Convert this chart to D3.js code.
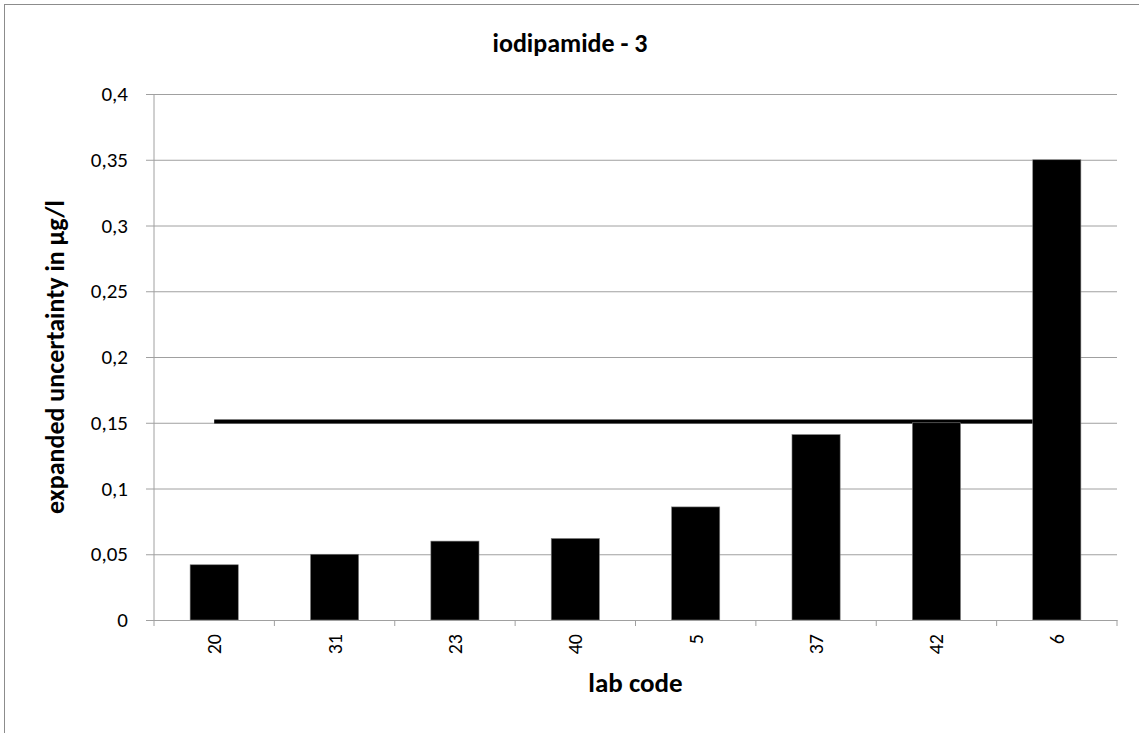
<!DOCTYPE html>
<html><head><meta charset="utf-8">
<script src="https://cdn.jsdelivr.net/npm/d3@7"></script>
<style>body{margin:0;background:#fff}svg{display:block}text{font-family:Carlito,Lato,"Open Sans",sans-serif}</style>
</head><body>
<svg id="chart" width="1139" height="733"></svg>
<script>
const labCodes = ["20","31","23","40","5","37","42","6"];
const uncertainty = [0.042,0.05,0.06,0.062,0.086,0.141,0.15,0.35];
const referenceValue = 0.151;
const yTicks = [0,0.05,0.1,0.15,0.2,0.25,0.3,0.35,0.4];
const title = "iodipamide - 3";
const xTitle = "lab code";
const yTitle = "expanded uncertainty in µg/l";

const svg = d3.select("#chart");
const W = 1139, H = 733;
const m = {left:154, right:1117, top:94, bottom:620};

svg.append("rect").attr("x",4.5).attr("y",4.5).attr("width",W).attr("height",H)
  .attr("fill","#fff").attr("stroke","#8c8c8c").attr("stroke-width",1);

const x = d3.scaleBand().domain(labCodes).range([m.left,m.right]).paddingInner(0.6).paddingOuter(0.3);
const y = d3.scaleLinear().domain([0,0.4]).range([m.bottom,m.top]);
const fmt = d => d3.format(".2~f")(d).replace(".",",");

// gridlines + y axis
const yAxis = svg.append("g").attr("transform",`translate(${m.left},0)`)
  .call(d3.axisLeft(y).tickValues(yTicks).tickFormat(fmt).tickSize(-(m.right-m.left)).tickSizeOuter(0).tickPadding(26));
yAxis.select(".domain").remove();
yAxis.selectAll(".tick line").attr("stroke","#a0a0a0").attr("x1",-8);
yAxis.selectAll(".tick text").attr("font-size",21).attr("fill","#000");
svg.append("line").attr("x1",m.left).attr("x2",m.left).attr("y1",m.top).attr("y2",m.bottom).attr("stroke","#a0a0a0");

// reference line
const cx = d => x(d)+x.bandwidth()/2;
svg.append("line").attr("x1",cx(labCodes[0])).attr("x2",cx(labCodes[labCodes.length-1]))
  .attr("y1",y(referenceValue)).attr("y2",y(referenceValue)).attr("stroke","#000").attr("stroke-width",4);

// bars
svg.append("g").selectAll("rect").data(labCodes).join("rect")
  .attr("x",d=>x(d)).attr("width",x.bandwidth())
  .attr("y",(d,i)=>y(uncertainty[i])).attr("height",(d,i)=>y(0)-y(uncertainty[i]))
  .attr("fill","#000").attr("stroke","#7f7f7f").attr("stroke-width",0.6);

// x axis
const xb = d3.scaleBand().domain(labCodes).range([m.left,m.right]);
const xAxis = svg.append("g").attr("transform",`translate(0,${m.bottom})`)
  .call(d3.axisBottom(xb).tickSize(0).tickSizeOuter(0));
xAxis.select(".domain").attr("stroke","#a0a0a0");
xAxis.selectAll(".tick text").attr("font-size",20).attr("fill","#000")
  .attr("transform","rotate(-90)").attr("text-anchor","end").attr("x",-14).attr("y",0).attr("dy","0.35em");
const bounds = labCodes.map(d=>xb(d)).concat([m.right]);
svg.append("g").selectAll("line").data(bounds).join("line")
  .attr("x1",d=>d).attr("x2",d=>d).attr("y1",m.bottom).attr("y2",m.bottom+6).attr("stroke","#a0a0a0");

// titles
svg.append("text").attr("x",570).attr("y",52).attr("text-anchor","middle")
  .attr("font-size",26).attr("font-weight","bold").text(title);
svg.append("text").attr("x",(m.left+m.right)/2).attr("y",692).attr("text-anchor","middle")
  .attr("font-size",27).attr("font-weight","bold").text(xTitle);
svg.append("text").attr("transform",`translate(64,${(m.top+m.bottom)/2}) rotate(-90)`).attr("text-anchor","middle")
  .attr("font-size",26).attr("font-weight","bold").text(yTitle);
</script>
</body></html>
